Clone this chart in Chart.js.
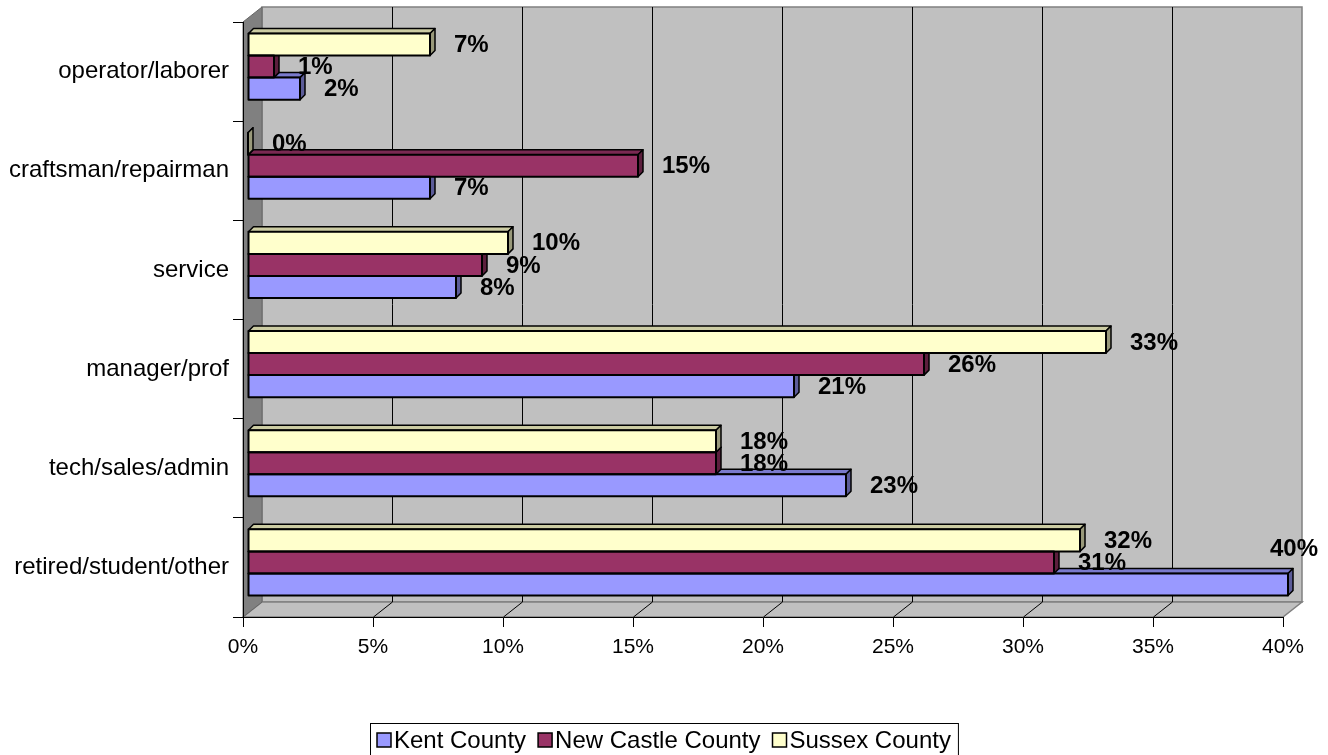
<!DOCTYPE html>
<html>
<head>
<meta charset="utf-8">
<title>Occupation by county</title>
<script src="https://cdn.jsdelivr.net/npm/chart.js@4.4.0/dist/chart.umd.min.js"></script>
<style>
    html, body { margin: 0; padding: 0; background: #ffffff; }
    #wrap { width: 1328px; height: 755px; }
</style>
</head>
<body>
<div id="wrap"><canvas id="chart"></canvas></div>
<script>
// Occupation shares per county, categories listed bottom to top
const categories = [
    "retired/student/other", "tech/sales/admin", "manager/prof",
    "service", "craftsman/repairman", "operator/laborer"
];
const seriesNames = ["Kent County", "New Castle County", "Sussex County"];
const kentValues = [40, 23, 21, 8, 7, 2];
const newCastleValues = [31, 18, 26, 9, 15, 1];
const sussexValues = [32, 18, 33, 10, 0, 7];
const axisMax = 40;
const axisStep = 5;

const seriesColors = ["#9999ff", "#993366", "#ffffcc"];
const FONT = '"Liberation Sans", Arial, sans-serif';

// 3D look: back wall offset, bar offset behind front plane, bar depth
const WALL_DX = 19, WALL_DY = 15;
const BAR_DX = 5, BAR_DY = 5;
const BAR_DEPTH = 5;

function shade(hex, f) {
    const n = parseInt(hex.slice(1), 16);
    const r = Math.round(((n >> 16) & 255) * f);
    const g = Math.round(((n >> 8) & 255) * f);
    const b = Math.round((n & 255) * f);
    return `rgb(${r},${g},${b})`;
}

function poly(ctx, pts, fill, stroke, width) {
    ctx.beginPath();
    ctx.moveTo(pts[0][0], pts[0][1]);
    for (let i = 1; i < pts.length; i++) ctx.lineTo(pts[i][0], pts[i][1]);
    ctx.closePath();
    if (fill) { ctx.fillStyle = fill; ctx.fill(); }
    if (stroke) { ctx.strokeStyle = stroke; ctx.lineWidth = width || 1; ctx.stroke(); }
}

// datasets are stacked top-down inside a group, so Kent (drawn lowest) goes last
function lowestFirst(chart) {
    return chart.data.datasets.map((ds, i) => i).reverse();
}

// Walls and floor behind everything
const wallsPlugin = {
    id: "walls",
    beforeDraw(chart) {
        const { ctx, chartArea: a, scales: { x } } = chart;
        const L = a.left, R = a.right, T = a.top, B = a.bottom;
        ctx.save();

        // back wall
        poly(ctx, [[L + WALL_DX, T - WALL_DY], [R + WALL_DX, T - WALL_DY], [R + WALL_DX, B - WALL_DY], [L + WALL_DX, B - WALL_DY]], "#c0c0c0", "#808080", 1.5);
        // floor
        poly(ctx, [[L, B], [L + WALL_DX, B - WALL_DY], [R + WALL_DX, B - WALL_DY], [R, B]], "#c0c0c0", "#808080", 1.5);
        // left wall
        poly(ctx, [[L, T], [L + WALL_DX, T - WALL_DY], [L + WALL_DX, B - WALL_DY], [L, B]], "#808080", "#666666", 1);

        // grid lines on back wall running down across the floor
        ctx.strokeStyle = "#000000";
        ctx.lineWidth = 1;
        x.ticks.forEach(t => {
            if (t.value <= x.min || t.value >= x.max) return;
            const px = Math.round(x.getPixelForValue(t.value)) + 0.5;
            ctx.beginPath();
            ctx.moveTo(px + WALL_DX, T - WALL_DY);
            ctx.lineTo(px + WALL_DX, B - WALL_DY);
            ctx.lineTo(px, B);
            ctx.stroke();
        });
        ctx.restore();
    }
};

// Top and side faces of the bars, outlines and value labels
const bars3dPlugin = {
    id: "bars3d",
    beforeDatasetsDraw(chart) {
        const ctx = chart.ctx;
        ctx.save();
        ctx.translate(BAR_DX, -BAR_DY);
        ctx.lineJoin = "round";
        const d = BAR_DEPTH;
        lowestFirst(chart).forEach(i => {
            const ds = chart.data.datasets[i];
            const topColor = shade(ds.backgroundColor, 0.8);
            const sideColor = shade(ds.backgroundColor, 0.6);
            chart.getDatasetMeta(i).data.forEach(bar => {
                const { x, y, base, height } = bar.getProps(["x", "y", "base", "height"], true);
                const y0 = y - height / 2, y1 = y + height / 2;
                poly(ctx, [[base, y0], [base + d, y0 - d], [x + d, y0 - d], [x, y0]], topColor, "#000", 1.5);
                poly(ctx, [[x, y0], [x + d, y0 - d], [x + d, y1 - d], [x, y1]], sideColor, "#000", 1.5);
            });
        });
    },
    afterDatasetsDraw(chart) {
        const ctx = chart.ctx;
        ctx.strokeStyle = "#000";
        ctx.lineWidth = 2;
        chart.data.datasets.forEach((ds, i) => {
            chart.getDatasetMeta(i).data.forEach(bar => {
                const { x, y, base, height } = bar.getProps(["x", "y", "base", "height"], true);
                ctx.strokeRect(base, y - height / 2, x - base, height);
            });
        });
        ctx.restore();

        // value labels
        ctx.save();
        ctx.font = `bold 24px ${FONT}`;
        ctx.fillStyle = "#000";
        ctx.textAlign = "left";
        ctx.textBaseline = "middle";
        chart.data.datasets.forEach((ds, i) => {
            chart.getDatasetMeta(i).data.forEach((bar, j) => {
                const { x, y, height } = bar.getProps(["x", "y", "height"], true);
                const text = ds.data[j] + "%";
                const w = ctx.measureText(text).width;
                let lx = x + BAR_DX + 24;
                let ly = y - BAR_DY + 1;
                if (lx + w > chart.width - 10) {
                    lx = chart.width - 10 - w;
                    ly = y - BAR_DY - height / 2 - 24;
                }
                ctx.fillText(text, lx, ly);
            });
        });
        ctx.restore();
    }
};

// Boxed legend centred under the axis
const legendPlugin = {
    id: "boxLegend",
    afterDraw(chart) {
        const ctx = chart.ctx;
        const top = 723, sw = 14, gap = 12, pad = 7;
        ctx.save();
        ctx.font = `24px ${FONT}`;
        ctx.textBaseline = "middle";
        ctx.textAlign = "left";
        const items = lowestFirst(chart).map(i => chart.data.datasets[i]);
        const widths = items.map(ds => ctx.measureText(ds.label).width);
        const total = widths.reduce((s, w) => s + sw + 3 + w, 0) + gap * (items.length - 1) + pad * 2;
        const left = Math.round(chart.width / 2 - total / 2);
        let cx = left + pad;
        items.forEach((ds, k) => {
            ctx.fillStyle = ds.backgroundColor;
            ctx.fillRect(cx, 733, sw, sw);
            ctx.strokeStyle = "#000";
            ctx.lineWidth = 1.5;
            ctx.strokeRect(cx, 733, sw, sw);
            ctx.fillStyle = "#000";
            ctx.fillText(ds.label, cx + sw + 3, 741);
            cx += sw + 3 + widths[k] + gap;
        });
        ctx.strokeStyle = "#000";
        ctx.lineWidth = 1;
        ctx.strokeRect(left + 0.5, top + 0.5, total, 40);
        ctx.restore();
    }
};

const seriesValues = [kentValues, newCastleValues, sussexValues];

new Chart(document.getElementById("chart"), {
    type: "bar",
    data: {
        labels: categories,
        datasets: seriesNames.map((name, i) => ({
            label: name,
            data: seriesValues[i],
            backgroundColor: seriesColors[i],
            borderWidth: 0,
            clip: false
        })).reverse()
    },
    options: {
        indexAxis: "y",
        responsive: true,
        maintainAspectRatio: false,
        animation: false,
        layout: { padding: { top: 22, right: 45, bottom: 0, left: 0 } },
        datasets: { bar: { categoryPercentage: 0.667, barPercentage: 1 } },
        plugins: {
            legend: { display: false },
            tooltip: { enabled: false }
        },
        scales: {
            x: {
                min: 0,
                max: axisMax,
                ticks: {
                    stepSize: axisStep,
                    callback: v => v + "%",
                    color: "#000",
                    font: { family: FONT, size: 21 },
                    padding: 8,
                    maxRotation: 0
                },
                grid: { drawOnChartArea: false, drawTicks: true, tickLength: 10, color: "#000" },
                border: { display: true, color: "#000", width: 1 },
                afterFit: s => { s.height = 138; }
            },
            y: {
                reverse: true,
                ticks: {
                    color: "#000",
                    font: { family: FONT, size: 24 },
                    padding: 4
                },
                grid: { drawOnChartArea: false, drawTicks: true, tickLength: 10, color: "#000" },
                border: { display: true, color: "#000", width: 1 },
                afterFit: s => { s.width = 243; }
            }
        }
    },
    plugins: [wallsPlugin, bars3dPlugin, legendPlugin]
});
</script>
</body>
</html>
